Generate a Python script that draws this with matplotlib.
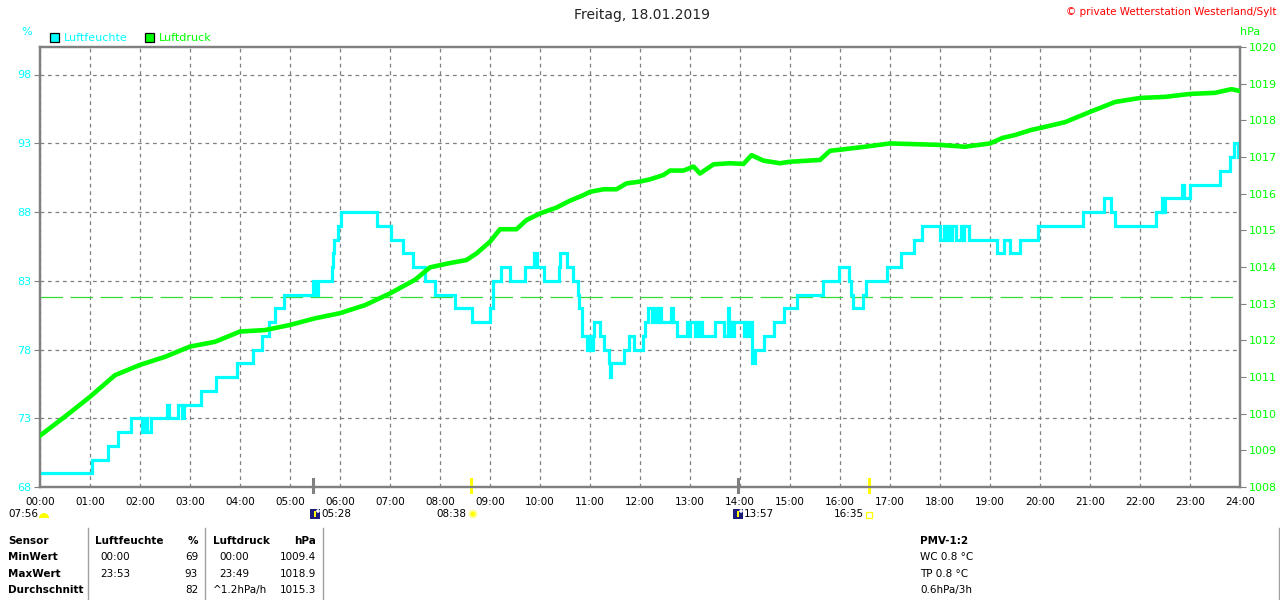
import matplotlib
matplotlib.use("Agg")
import matplotlib.pyplot as plt
from matplotlib.patches import Rectangle, Wedge, Circle
from matplotlib.transforms import IdentityTransform

W, H = 1280, 600

# ---------------- data ----------------
hum_t = [0, 1.03, 1.35, 1.55, 1.81, 2.03, 2.10, 2.13, 2.22, 2.53, 2.57, 2.76, 2.84, 2.88,
         3.21, 3.51, 3.93, 4.27, 4.44, 4.58, 4.70, 4.88, 5.45, 5.50, 5.56, 5.83, 5.86, 5.88,
         5.95, 6.01, 6.73, 7.01, 7.25, 7.45, 7.70, 7.89, 8.30, 8.63, 8.99, 9.05, 9.22, 9.40,
         9.70, 9.87, 9.94, 10.07, 10.37, 10.40, 10.53, 10.65, 10.75, 10.78, 10.83, 10.93,
         10.97, 10.99, 11.05, 11.07, 11.20, 11.27, 11.37, 11.40, 11.42, 11.67, 11.78, 11.88,
         12.05, 12.10, 12.15, 12.23, 12.28, 12.33, 12.38, 12.42, 12.61, 12.66, 12.73, 12.93,
         12.96, 12.99, 13.10, 13.14, 13.17, 13.20, 13.23, 13.50, 13.67, 13.75, 13.78, 13.82,
         13.85, 13.88, 14.07, 14.10, 14.14, 14.18, 14.23, 14.30, 14.47, 14.67, 14.88, 15.13,
         15.65, 15.97, 16.17, 16.22, 16.25, 16.45, 16.52, 16.93, 17.21, 17.47, 17.63, 18.00,
         18.07, 18.10, 18.14, 18.20, 18.24, 18.33, 18.41, 18.46, 18.49, 18.57, 19.13, 19.27,
         19.40, 19.59, 19.95, 20.85, 21.28, 21.41, 21.50, 22.32, 22.43, 22.46, 22.49, 22.83,
         22.87, 22.99, 23.59, 23.79, 23.87, 23.95, 24.0]
hum_v = [69, 70, 71, 72, 73, 72, 73, 72, 73, 74, 73, 74, 73, 74,
         75, 76, 77, 78, 79, 80, 81, 82, 83, 82, 83, 84, 85, 86,
         87, 88, 87, 86, 85, 84, 83, 82, 81, 80, 81, 83, 84, 83,
         84, 85, 84, 83, 84, 85, 84, 83, 82, 81, 79, 78,
         79, 78, 79, 80, 79, 78, 77, 76, 77, 78, 79, 78,
         79, 80, 81, 80, 81, 80, 81, 80, 81, 80, 79, 80,
         79, 80, 79, 80, 79, 80, 79, 80, 79, 81, 79, 80,
         79, 80, 79, 80, 79, 80, 77, 78, 79, 80, 81, 82,
         83, 84, 83, 82, 81, 82, 83, 84, 85, 86, 87, 86,
         87, 86, 87, 86, 87, 86, 87, 86, 87, 86, 85, 86,
         85, 86, 87, 88, 89, 88, 87, 88, 89, 88, 89, 90,
         89, 90, 91, 92, 93, 92, 92]

pres_t = [0, 0.5, 1, 1.5, 2, 2.5, 3, 3.5, 4, 4.5, 5, 5.5, 6, 6.5, 7, 7.5, 7.8, 8.17, 8.53,
          8.73, 9.0, 9.2, 9.53, 9.73, 10.0, 10.33, 10.6, 10.87, 11.0, 11.27, 11.53, 11.73,
          12.0, 12.2, 12.47, 12.6, 12.87, 13.07, 13.2, 13.47, 13.8, 14.07, 14.23, 14.47,
          14.8, 15.0, 15.6, 15.8, 16.07, 16.5, 17, 17.5, 18, 18.5, 19, 19.25, 19.5, 19.83,
          20, 20.5, 21, 21.5, 22, 22.5, 23, 23.5, 23.83, 24]
pres_v = [1009.4, 1009.92, 1010.46, 1011.05, 1011.33, 1011.55, 1011.83, 1011.96, 1012.24,
          1012.28, 1012.42, 1012.6, 1012.74, 1012.96, 1013.28, 1013.65, 1013.99, 1014.1,
          1014.19, 1014.37, 1014.69, 1015.03, 1015.03, 1015.28, 1015.46, 1015.62, 1015.81,
          1015.96, 1016.05, 1016.12, 1016.12, 1016.28, 1016.33, 1016.39, 1016.51, 1016.63,
          1016.63, 1016.74, 1016.55, 1016.8, 1016.83, 1016.81, 1017.05, 1016.9, 1016.83,
          1016.87, 1016.92, 1017.17, 1017.21, 1017.28, 1017.37, 1017.35, 1017.33, 1017.28,
          1017.37, 1017.52, 1017.6, 1017.74, 1017.79, 1017.95, 1018.23, 1018.5, 1018.61,
          1018.64, 1018.72, 1018.75, 1018.85, 1018.8]

hum_avg = 81.8
hum_ticks = [68, 73, 78, 83, 88, 93, 98]
pres_ticks = list(range(1008, 1021))
hour_ticks = list(range(0, 25))
hour_labels = ["%02d:00" % h for h in hour_ticks]

# ---------------- figure ----------------
plt.rcParams['font.family'] = ['DejaVu Sans']
fig = plt.figure(figsize=(W / 100, H / 100), dpi=100)
fig.patch.set_facecolor("white")

x0, x1, yt, yb = 40, 1240, 47, 487
ax = fig.add_axes([x0 / W, 1 - yb / H, (x1 - x0) / W, (yb - yt) / H])
ax2 = ax.twinx()

GREY = "#808080"
CYAN = "#00FFFF"
GREEN = "#00FF00"

ax.set_xlim(0, 24)
ax.set_ylim(68, 100)
ax2.set_ylim(1008, 1020)

ax.set_xticks(hour_ticks)
ax.set_xticklabels(hour_labels, fontsize=7.5, color="black")
ax.tick_params(axis='x', length=0, pad=7)
ax.set_yticks(hum_ticks)
ax.set_yticklabels([str(v) for v in hum_ticks], fontsize=8, color=CYAN)
ax.tick_params(axis='y', length=4, color=GREY, pad=2)
ax2.set_yticks(pres_ticks)
ax2.set_yticklabels([str(v) for v in pres_ticks], fontsize=8, color=GREEN)
ax2.tick_params(axis='y', length=4, color=GREY, pad=2)

ax.grid(True, color=GREY, linestyle=(0, (3, 3)), linewidth=0.9)
for a in (ax, ax2):
    for s in a.spines.values():
        s.set_color(GREY)
        s.set_linewidth(1.6)

# average line
ax.axhline(hum_avg, color="#33DD33", linewidth=0.9, linestyle=(0, (18, 6)), zorder=2)

# humidity
ax.plot(hum_t, hum_v, drawstyle="steps-post", color=CYAN, linewidth=2.3, zorder=4,
        solid_joinstyle="miter")
# pressure
ax2.plot(pres_t, pres_v, color=GREEN, linewidth=3.3, zorder=5)

# special event ticks on x axis
events = [(5 + 28 / 60, GREY), (8 + 37 / 60, "#FFFF00"), (13 + 57 / 60, GREY), (16 + 35 / 60, "#FFFF00")]
for t, c in events:
    ax.plot([t, t], [-0.012, 0.018], transform=ax.get_xaxis_transform(), color=c,
            linewidth=2.2, clip_on=False, zorder=6)


def px(x, y):
    return x / W, 1 - y / H


def dp(x, y):
    # display pixel coordinates (origin bottom-left)
    return x, H - y


def ftext(x, y, s, **kw):
    fx, fy = px(x, y)
    kw.setdefault("fontsize", 8)
    kw.setdefault("va", "center")
    fig.text(fx, fy, s, **kw)


# title and header texts
ftext(642, 15, "Freitag, 18.01.2019", fontsize=10, ha="center", color="#222222")
ftext(1276, 12, "\u00a9 private Wetterstation Westerland/Sylt", fontsize=7.5, ha="right", color="#FF0000")
ftext(27, 32, "%", fontsize=8, ha="center", color=CYAN)
ftext(1250, 32, "hPa", fontsize=8, ha="center", color=GREEN)

ID = IdentityTransform()

# legend
for bx, col, label in [(50, CYAN, "Luftfeuchte"), (145, GREEN, "Luftdruck")]:
    fig.patches.append(Rectangle(dp(bx, 42), 9, 9, transform=ID,
                                 facecolor=col, edgecolor="black", linewidth=0.9))
    ftext(bx + 14, 38, label, fontsize=8, ha="left", color=col)

# astro row
ftext(8, 514, "07:56", fontsize=7.5, ha="left")
fig.patches.append(Wedge(dp(44, 518), 5, 0, 180, transform=ID,
                         facecolor="#FFFF00", edgecolor="none"))
for bx, label in [(310, "05:28"), (733, "13:57")]:
    fig.patches.append(Rectangle(dp(bx, 519), 10, 10, transform=ID,
                                 facecolor="#1C1C7C", edgecolor="none"))
    fig.patches.append(Rectangle(dp(bx + 4, 517), 2, 6, transform=ID,
                                 facecolor="#FFFF00", edgecolor="none"))
    fig.patches.append(Circle(dp(bx + 8, 511), 1.8, transform=ID,
                              facecolor="white", edgecolor="none"))
    ftext(bx + 11, 514, label, fontsize=7.5, ha="left")
ftext(466, 514, "08:38", fontsize=7.5, ha="right")
fig.patches.append(Circle(dp(473, 514), 3.5, transform=ID,
                          facecolor="#FFFF00", edgecolor="#FFFFA0", linewidth=1.5))
ftext(864, 514, "16:35", fontsize=7.5, ha="right")
fig.patches.append(Rectangle(dp(866, 518), 6, 6, transform=ID,
                             facecolor="white", edgecolor="#FFFF00", linewidth=0.9))

# table
for sx in (88, 205, 323, 1279):
    fig.add_artist(plt.Line2D([sx / W, sx / W], [1 - 528 / H, 0], color="#A0A0A0", linewidth=1.0))

rows_y = [541, 557, 574, 590]
bold = dict(fontsize=7.5, fontweight="bold", ha="left")
ftext(8, rows_y[0], "Sensor", **bold)
ftext(8, rows_y[1], "MinWert", **bold)
ftext(8, rows_y[2], "MaxWert", **bold)
ftext(8, rows_y[3], "Durchschnitt", **bold)
ftext(95, rows_y[0], "Luftfeuchte", **bold)
ftext(198, rows_y[0], "%", fontsize=7.5, fontweight="bold", ha="right")
ftext(213, rows_y[0], "Luftdruck", **bold)
ftext(316, rows_y[0], "hPa", fontsize=7.5, fontweight="bold", ha="right")

norm = dict(fontsize=7.5, ha="left")
right = dict(fontsize=7.5, ha="right")
ftext(100, rows_y[1], "00:00", **norm)
ftext(198, rows_y[1], "69", **right)
ftext(219, rows_y[1], "00:00", **norm)
ftext(316, rows_y[1], "1009.4", **right)
ftext(100, rows_y[2], "23:53", **norm)
ftext(198, rows_y[2], "93", **right)
ftext(219, rows_y[2], "23:49", **norm)
ftext(316, rows_y[2], "1018.9", **right)
ftext(198, rows_y[3], "82", **right)
ftext(213, rows_y[3], "^1.2hPa/h", **norm)
ftext(316, rows_y[3], "1015.3", **right)

ftext(920, rows_y[0], "PMV-1:2", **bold)
ftext(920, rows_y[1], "WC 0.8 \u00b0C", **norm)
ftext(920, rows_y[2], "TP 0.8 \u00b0C", **norm)
ftext(920, rows_y[3], "0.6hPa/3h", **norm)

fig.savefig("out.png", dpi=100, facecolor="white")
